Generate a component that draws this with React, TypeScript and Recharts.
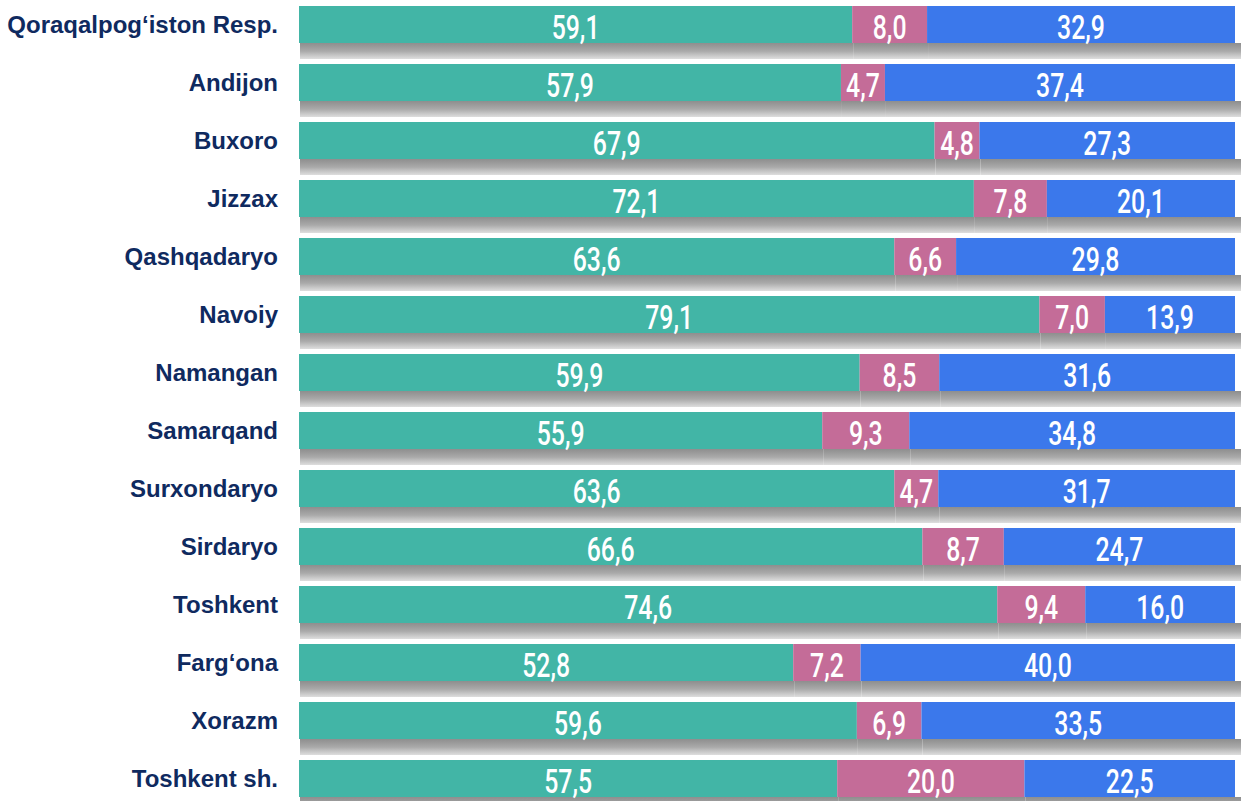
import { Bar, BarChart, LabelList, XAxis, YAxis } from "recharts"

const REGIONS = [
    "Qoraqalpog‘iston Resp.",
    "Andijon",
    "Buxoro",
    "Jizzax",
    "Qashqadaryo",
    "Navoiy",
    "Namangan",
    "Samarqand",
    "Surxondaryo",
    "Sirdaryo",
    "Toshkent",
    "Farg‘ona",
    "Xorazm",
    "Toshkent sh.",
]

const TEAL_VALUES = [59.1, 57.9, 67.9, 72.1, 63.6, 79.1, 59.9, 55.9, 63.6, 66.6, 74.6, 52.8, 59.6, 57.5]
const PINK_VALUES = [8.0, 4.7, 4.8, 7.8, 6.6, 7.0, 8.5, 9.3, 4.7, 8.7, 9.4, 7.2, 6.9, 20.0]
const BLUE_VALUES = [32.9, 37.4, 27.3, 20.1, 29.8, 13.9, 31.6, 34.8, 31.7, 24.7, 16.0, 40.0, 33.5, 22.5]

const data = REGIONS.map((name, i) => ({
    name,
    teal: TEAL_VALUES[i],
    pink: PINK_VALUES[i],
    blue: BLUE_VALUES[i],
}))

const fmt = (v: number) => v.toFixed(1).replace(".", ",")

// bar with the soft grey shadow underneath
const shadowShape = (extend: number) => (props: any) => {
    const { x, y, width, height, fill } = props
    return (
        <g>
            <rect x={x + 1} y={y + height} width={width + extend} height={16} fill="url(#barShadow)" />
            <rect x={x} y={y} width={width} height={height} fill={fill} />
        </g>
    )
}

const renderValue = (props: any) => {
    const { x, y, width, height, value } = props
    return (
        <text
            x={0}
            y={0}
            transform={`translate(${x + width / 2},${y + height / 2 + 3}) scale(0.73,1)`}
            textAnchor="middle"
            dominantBaseline="central"
            fill="#ffffff"
            fontSize={34}
            fontWeight={500}
            fontFamily="Roboto, sans-serif"
        >
            {fmt(value)}
        </text>
    )
}

export default function App() {
    return (
        <div style={{ position: "absolute", left: 0, top: -5, width: 1241, height: 812, background: "#fff" }}>
            <BarChart
                width={1241}
                height={812}
                data={data}
                layout="vertical"
                margin={{ top: 0, right: 6, bottom: 0, left: 0 }}
                barSize={37}
            >
                <defs>
                    <linearGradient id="barShadow" x1="0" y1="0" x2="0" y2="1">
                        <stop offset="0%" stopColor="#8e8e8e" />
                        <stop offset="50%" stopColor="#a9a9a9" />
                        <stop offset="100%" stopColor="#dedede" />
                    </linearGradient>
                </defs>
                <XAxis type="number" domain={[0, 100]} hide />
                <YAxis
                    type="category"
                    dataKey="name"
                    width={299}
                    axisLine={false}
                    tickLine={false}
                    tickSize={0}
                    tickMargin={21}
                    tick={{ fill: "#0f2a5f", fontSize: 24, fontWeight: 700, fontFamily: "Liberation Sans, Arial, sans-serif" }}
                    interval={0}
                />
                <Bar dataKey="teal" stackId="a" fill="#42b5a6" shape={shadowShape(0)} isAnimationActive={false}>
                    <LabelList dataKey="teal" content={renderValue} />
                </Bar>
                <Bar dataKey="pink" stackId="a" fill="#c46c98" shape={shadowShape(0)} isAnimationActive={false}>
                    <LabelList dataKey="pink" content={renderValue} />
                </Bar>
                <Bar dataKey="blue" stackId="a" fill="#3b78eb" shape={shadowShape(5)} isAnimationActive={false}>
                    <LabelList dataKey="blue" content={renderValue} />
                </Bar>
            </BarChart>
        </div>
    )
}
